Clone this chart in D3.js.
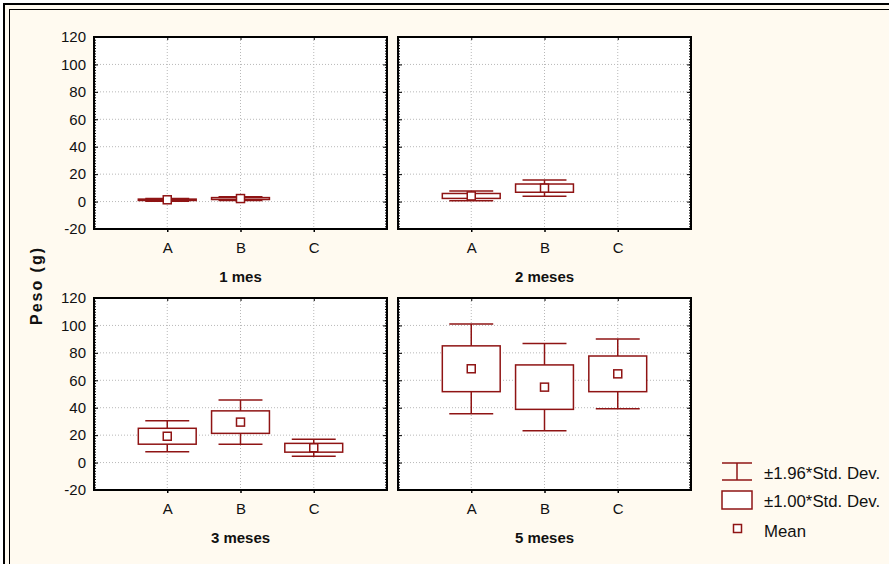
<!DOCTYPE html>
<html>
<head>
<meta charset="utf-8">
<script src="https://cdn.jsdelivr.net/npm/d3@7"></script>
<style>
  body { margin: 0; background: #fff; }
  text { font-family: "Liberation Sans", Arial, sans-serif; fill: #111; }
</style>
</head>
<body>
<div id="chart"></div>
<script>
var svgWidth = 889;
var svgHeight = 564;

// categories and panels
var categories = ["A", "B", "C"];
var panelTitles = ["1 mes", "2 meses", "3 meses", "5 meses"];
var yTicks = [-20, 0, 20, 40, 60, 80, 100, 120];

// mean and standard deviation per category (null = no data)
var mes1Mean = [1.3, 2.2, null];
var mes1Sd = [0.5, 0.7, null];
var mes2Mean = [4.1, 9.8, null];
var mes2Sd = [1.8, 3.0, null];
var mes3Mean = [19.2, 29.5, 10.8];
var mes3Sd = [5.8, 8.2, 3.2];
var mes5Mean = [68.4, 55.0, 64.7];
var mes5Sd = [16.7, 16.2, 13.0];

var legendLabels = ["\u00b11.96*Std. Dev.", "\u00b11.00*Std. Dev.", "Mean"];

var means = [mes1Mean, mes2Mean, mes3Mean, mes5Mean];
var sds = [mes1Sd, mes2Sd, mes3Sd, mes5Sd];

var red = "#8f1414";
var cream = "#fffaf0";

// panel layout
var colX = [94, 398];
var rowY = [37, 298];
var pw = 293;
var ph = 192;

var svg = d3.select("#chart")
  .append("svg")
  .attr("width", svgWidth)
  .attr("height", svgHeight);

svg.append("rect")
  .attr("x", 3).attr("y", 3)
  .attr("width", svgWidth).attr("height", svgHeight)
  .attr("fill", cream);

// double frame (continues past the right and bottom edges)
svg.append("rect")
  .attr("x", 4).attr("y", 4)
  .attr("width", svgWidth + 20).attr("height", svgHeight + 20)
  .attr("fill", "none").attr("stroke", "#000").attr("stroke-width", 2);
svg.append("rect")
  .attr("x", 9.5).attr("y", 9.5)
  .attr("width", svgWidth + 20).attr("height", svgHeight + 20)
  .attr("fill", "none").attr("stroke", "#000").attr("stroke-width", 1);

var x = d3.scalePoint().domain(categories).range([0, pw]).padding(1);
var y = d3.scaleLinear().domain([-20, 120]).range([ph, 0]);

var step = x.step();
var boxW = step * 0.79;
var capW = step * 0.6;

panelTitles.forEach(function(title, i) {
  var col = i % 2;
  var row = Math.floor(i / 2);
  var g = svg.append("g")
    .attr("transform", `translate(${colX[col]}, ${rowY[row]})`);

  g.append("rect")
    .attr("width", pw).attr("height", ph)
    .attr("fill", "#fff");

  // dotted grid
  g.append("g").selectAll("line")
    .data(yTicks.slice(1, -1))
    .enter().append("line")
    .attr("x1", 0).attr("x2", pw)
    .attr("y1", d => y(d)).attr("y2", d => y(d))
    .attr("stroke", "#b8b8b8").attr("stroke-dasharray", "1,2");

  g.append("g").selectAll("line")
    .data(categories)
    .enter().append("line")
    .attr("x1", d => x(d)).attr("x2", d => x(d))
    .attr("y1", 0).attr("y2", ph)
    .attr("stroke", "#b8b8b8").attr("stroke-dasharray", "1,2");

  // minor ticks inside left and right
  var minor = d3.range(-20, 121, 2);
  g.append("g")
    .call(d3.axisLeft(y).tickValues(minor).tickSize(-2).tickFormat(""))
    .call(a => a.select(".domain").remove());
  g.append("g")
    .attr("transform", `translate(${pw}, 0)`)
    .call(d3.axisRight(y).tickValues(minor).tickSize(-2).tickFormat(""))
    .call(a => a.select(".domain").remove());

  // major ticks + labels
  var leftAxis = g.append("g")
    .call(d3.axisLeft(y).tickValues(yTicks).tickSize(-4).tickPadding(8)
      .tickFormat(d => String(d)))
    .call(a => a.select(".domain").remove());
  leftAxis.selectAll("text")
    .style("font-size", "15px")
    .style("font-family", "'Liberation Sans', Arial, sans-serif")
    .attr("fill", "#111");
  if (col === 1) leftAxis.selectAll("text").remove();

  g.append("g")
    .attr("transform", `translate(${pw}, 0)`)
    .call(d3.axisRight(y).tickValues(yTicks).tickSize(-4).tickFormat(""))
    .call(a => a.select(".domain").remove());

  var bottomAxis = g.append("g")
    .attr("transform", `translate(0, ${ph})`)
    .call(d3.axisBottom(x).tickSize(3).tickPadding(10))
    .call(a => a.select(".domain").remove());
  bottomAxis.selectAll("text")
    .style("font-size", "15px")
    .style("font-family", "'Liberation Sans', Arial, sans-serif")
    .attr("fill", "#111");
  bottomAxis.selectAll("line").attr("stroke-width", 1.5);
  g.append("g")
    .call(d3.axisTop(x).tickSize(-3).tickFormat(""))
    .call(a => a.select(".domain").remove());

  // boxes
  var rows = categories.map(function(c, k) {
    return { cat: c, mean: means[i][k], sd: sds[i][k] };
  }).filter(d => d.mean !== null);

  var marks = g.append("g").selectAll("g")
    .data(rows)
    .enter().append("g")
    .attr("transform", d => `translate(${x(d.cat)}, 0)`);

  marks.append("line")
    .attr("x1", 0).attr("x2", 0)
    .attr("y1", d => y(d.mean - 1.96 * d.sd))
    .attr("y2", d => y(d.mean + 1.96 * d.sd))
    .attr("stroke", red).attr("stroke-width", 1.5);

  marks.selectAll(".cap")
    .data(d => [d.mean - 1.96 * d.sd, d.mean + 1.96 * d.sd])
    .enter().append("line")
    .attr("class", "cap")
    .attr("x1", -capW / 2).attr("x2", capW / 2)
    .attr("y1", v => y(v)).attr("y2", v => y(v))
    .attr("stroke", red).attr("stroke-width", 1.5);

  marks.append("rect")
    .attr("x", -boxW / 2)
    .attr("y", d => y(d.mean + d.sd))
    .attr("width", boxW)
    .attr("height", d => y(d.mean - d.sd) - y(d.mean + d.sd))
    .attr("fill", "#fff")
    .attr("stroke", red).attr("stroke-width", 1.5);

  marks.append("rect")
    .attr("x", -4)
    .attr("y", d => y(d.mean) - 4)
    .attr("width", 8).attr("height", 8)
    .attr("fill", "#fff")
    .attr("stroke", red).attr("stroke-width", 1.5);

  // frame
  g.append("rect")
    .attr("width", pw).attr("height", ph)
    .attr("fill", "none").attr("stroke", "#000").attr("stroke-width", 2);

  g.append("text")
    .attr("x", pw / 2)
    .attr("y", ph + 52.5)
    .attr("text-anchor", "middle")
    .style("font-size", "15px")
    .style("font-weight", "bold")
    .text(title);
});

// y axis title
svg.append("text")
  .attr("transform", "translate(41.7, 286.5) rotate(-90)")
  .attr("text-anchor", "middle")
  .attr("textLength", 77)
  .attr("lengthAdjust", "spacing")
  .style("font-size", "16px")
  .style("font-weight", "bold")
  .text("Peso (g)");

// legend
var legend = svg.append("g");
var lx = 722, lw = 30;

legend.append("line")
  .attr("x1", lx).attr("x2", lx + lw).attr("y1", 463).attr("y2", 463)
  .attr("stroke", red).attr("stroke-width", 1.5);
legend.append("line")
  .attr("x1", lx).attr("x2", lx + lw).attr("y1", 480).attr("y2", 480)
  .attr("stroke", red).attr("stroke-width", 1.5);
legend.append("line")
  .attr("x1", lx + lw / 2).attr("x2", lx + lw / 2).attr("y1", 463).attr("y2", 480)
  .attr("stroke", red).attr("stroke-width", 1.5);

legend.append("rect")
  .attr("x", lx).attr("y", 491).attr("width", lw).attr("height", 18)
  .attr("fill", "#fff").attr("stroke", red).attr("stroke-width", 1.5);

legend.append("rect")
  .attr("x", 733.5).attr("y", 524.5).attr("width", 8).attr("height", 8)
  .attr("fill", "#fff").attr("stroke", red).attr("stroke-width", 1.5);

var legendY = [479.3, 506.7, 536.7];
legend.selectAll(".lab")
  .data(legendLabels)
  .enter().append("text")
  .attr("class", "lab")
  .attr("x", 764)
  .attr("y", (d, i) => legendY[i])
  .style("font-size", "16.8px")
  .text(d => d);
</script>
</body>
</html>
